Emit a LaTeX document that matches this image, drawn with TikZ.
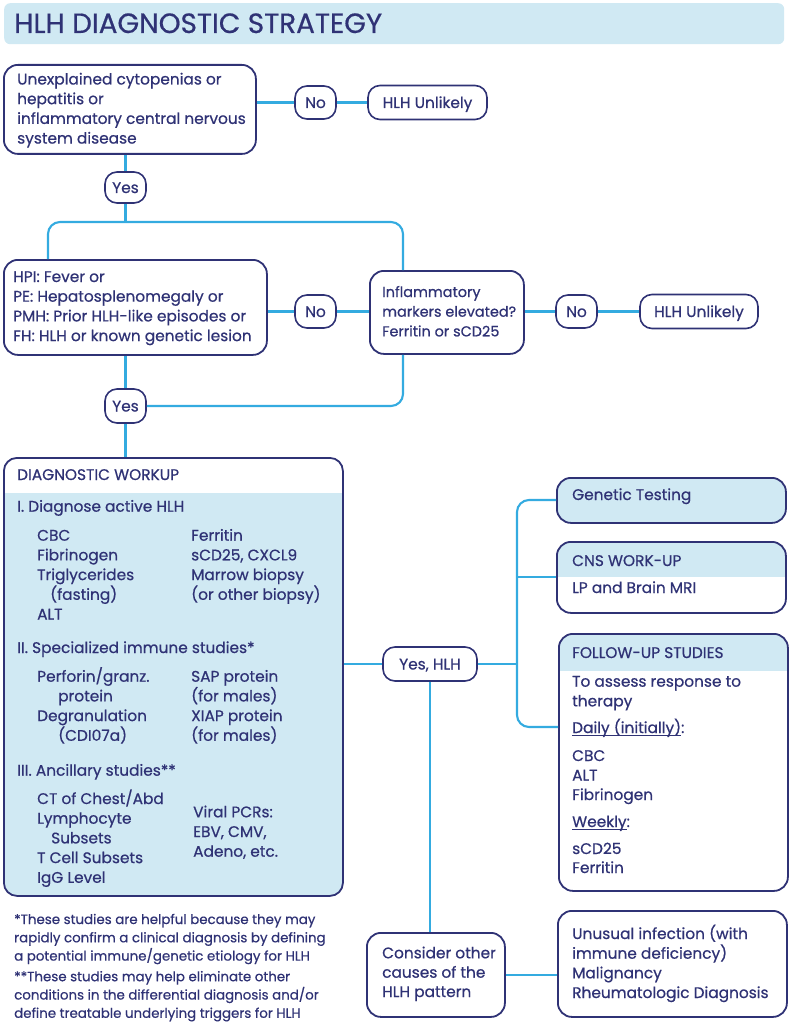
\documentclass[tikz,border=0pt]{standalone}
\usepackage{fontspec}
\setmainfont{Poppins}[FakeBold=0.6]
\definecolor{navy}{HTML}{2F3275}
\definecolor{cyanl}{HTML}{34ABE0}
\definecolor{pale}{HTML}{D0E9F3}
\newlength\mw
\newcommand\myul[1]{\setbox0\hbox{#1}\rlap{\rule[-2.8pt]{\wd0}{1.1pt}}#1}
\newcommand\measure[3]{\settowidth\mw{\fontsize{10pt}{12pt}\selectfont #2}\pgfmathsetmacro#1{#3/\mw}\global\let#1#1}
\begin{document}
\measure{\fsz}{\mbox{Unexplained cytopenias or}\mbox{FH: HLH or known genetic lesion}\mbox{markers elevated?}\mbox{Rheumatologic Diagnosis}\mbox{To assess response to}\mbox{Genetic Testing}}{10700}
\measure{\tsz}{HLH DIAGNOSTIC STRATEGY}{3680}
\measure{\fnsz}{\mbox{rapidly confirm a clinical diagnosis by defining}\mbox{conditions in the differential diagnosis and/or}}{6160}
\measure{\isz}{markers elevated?}{1340}
\begin{tikzpicture}[x=1pt,y=-1pt,
  box/.style={draw=navy, line width=1.8pt, rounded corners=14pt, fill=white, anchor=north west, inner sep=0pt},
  pill/.style={draw=navy, line width=1.6pt, rounded corners=12pt, fill=white, inner sep=0pt, text=navy, font=\fs, text height=11pt, text depth=0pt},
  conn/.style={draw=cyanl, line width=2.1pt, rounded corners=12pt},
  tx/.style={anchor=base west, inner sep=0pt, text=navy, font=\fs},
  itx/.style={anchor=base west, inner sep=0pt, text=navy, font=\ifs},
  fn/.style={anchor=base west, inner sep=0pt, text=navy, font=\ffs},
  hdr/.style={path picture={\fill[#1, sharp corners] (path picture bounding box.north west) rectangle ([yshift=-\hh pt]path picture bounding box.north east);}},
]
\def\fs{\fontsize{\fsz pt}{19.7pt}\selectfont}
\def\ifs{\fontsize{\isz pt}{19.7pt}\selectfont}
\def\ffs{\fontsize{\fnsz pt}{18.5pt}\selectfont}
\def\tfs{\fontsize{\tsz pt}{30pt}\selectfont}
\useasboundingbox (0,0) rectangle (791,1024);

% title
\node[fill=pale, rounded corners=6pt, anchor=north west, minimum width=780pt, minimum height=41pt, inner sep=0pt] (title) at (4,3) {};
\node[anchor=base west, inner sep=0pt, text=navy, font=\tfs] (ttl) at (14,33) {HLH DIAGNOSTIC STRATEGY};

% boxes
\node[box, minimum width=252pt, minimum height=89pt] (b1) at (3,64) {};
\node[pill, minimum width=41pt, minimum height=33pt] (no1) at (315.5,102.5) {No};
\node[pill, minimum width=119pt, minimum height=34pt] (un1) at (427.5,102.5) {HLH Unlikely};
\node[pill, minimum width=41pt, minimum height=31pt] (yes1) at (125.5,187.5) {Yes};
\node[box, minimum width=263pt, minimum height=95pt] (b2) at (3,259) {};
\node[pill, minimum width=41pt, minimum height=33pt] (no2) at (315.5,311.5) {No};
\node[box, minimum width=154pt, minimum height=83pt] (inf) at (369,270) {};
\node[pill, minimum width=41pt, minimum height=33pt] (no3) at (576.5,311.5) {No};
\node[pill, minimum width=118pt, minimum height=34pt] (un2) at (699,311.5) {HLH Unlikely};
\node[pill, minimum width=41pt, minimum height=34pt] (yes2) at (125.5,406) {Yes};
\def\hh{35}
\node[box, fill=pale, hdr=white, rounded corners=13pt, minimum width=339pt, minimum height=438pt] (wk) at (3,457) {};
\node[pill, minimum width=94pt, minimum height=34pt] (yh) at (430,664) {Yes, HLH};
\node[box, fill=pale, minimum width=229pt, minimum height=45pt] (gen) at (556,477) {};
\node[box, hdr=pale, minimum width=229pt, minimum height=71pt] (cns) at (556,541) {};
\def\hh{37}
\node[box, hdr=pale, minimum width=229pt, minimum height=257pt] (fu) at (558,633) {};
\node[box, minimum width=138pt, minimum height=84pt] (con) at (366,932) {};
\node[box, minimum width=229pt, minimum height=106pt] (unu) at (557,910) {};

% connectors
\coordinate (jL) at (48,222);
\coordinate (jR) at (403,222);
\coordinate (jR2) at (403,406);
\coordinate (busT) at (517,500);
\coordinate (busB) at (517,727);
\draw[conn] (no1.west -| b1.east) -- (no1.west);
\draw[conn] (no1.east) -- (un1.west);
\draw[conn] (yes1.north |- b1.south) -- (yes1.north);
\draw[conn] (yes1.south) -- (yes1.south |- jL);
\draw[conn] (jL |- b2.north) -- (jL) -- (jR) -- (jR |- inf.north);
\draw[conn] (no2.west -| b2.east) -- (no2.west);
\draw[conn] (no2.east) -- (no2.east -| inf.west);
\draw[conn] (no3.west -| inf.east) -- (no3.west);
\draw[conn] (no3.east) -- (no3.east -| un2.west);
\draw[conn] (yes2.north |- b2.south) -- (yes2.north);
\draw[conn] (yes2.south) -- (yes2.south |- wk.north);
\draw[conn] (yes2.east) -- (jR2) -- (jR2 |- inf.south);
\draw[conn] (yh.west -| wk.east) -- (yh.west);
\draw[conn] (yh.east) -- (yh.east -| busT);
\draw[conn] (gen.west |- busT) -- (busT) -- (busB) -- (busB -| fu.west);
\draw[conn] (busT |- cns.west) -- (cns.west);
\draw[conn] (yh.south) -- (yh.south |- con.north);
\draw[conn] (con.east) -- (con.east -| unu.west);

% texts box1
\node[tx] (t1a) at (17,84.5) {Unexplained cytopenias or};
\node[tx] (t1b) at (17,104.2) {hepatitis or};
\node[tx] (t1c) at (17,123.9) {inflammatory central nervous};
\node[tx] (t1d) at (17,143.6) {system disease};
% box2
\node[tx] (t2a) at (13,282) {HPI: Fever or};
\node[tx] (t2b) at (13,301.7) {PE: Hepatosplenomegaly or};
\node[tx] (t2c) at (13,321.4) {PMH: Prior HLH-like episodes or};
\node[tx] (t2d) at (13,341.1) {FH: HLH or known genetic lesion};
% inflammatory
\node[itx] (t3a) at (382,297) {Inflammatory};
\node[itx] (t3b) at (382,316.7) {markers elevated?};
\node[itx] (t3c) at (382,336.4) {Ferritin or sCD25};
% workup
\node[tx] (w0) at (17,480) {DIAGNOSTIC WORKUP};
\node[tx] (w1) at (17,511.7) {I. Diagnose active HLH};
\node[tx] (w1a) at (37,540.7) {CBC};
\node[tx] (w1b) at (37,560.4) {Fibrinogen};
\node[tx] (w1c) at (37,580.1) {Triglycerides};
\node[tx] (w1d) at (50,599.8) {(fasting)};
\node[tx] (w1e) at (37,619.5) {ALT};
\node[tx] (w1f) at (191,540.7) {Ferritin};
\node[tx] (w1g) at (191,560.4) {sCD25, CXCL9};
\node[tx] (w1h) at (191,580.1) {Marrow biopsy};
\node[tx] (w1i) at (191,599.8) {(or other biopsy)};
\node[tx] (w2) at (17,653) {II. Specialized immune studies*};
\node[tx] (w2a) at (37,681.7) {Perforin/granz.};
\node[tx] (w2b) at (58,701.4) {protein};
\node[tx] (w2c) at (37,721.1) {Degranulation};
\node[tx] (w2d) at (58,740.8) {(CDI07a)};
\node[tx] (w2e) at (191,681.7) {SAP protein};
\node[tx] (w2f) at (191,701.4) {(for males)};
\node[tx] (w2g) at (191,721.1) {XIAP protein};
\node[tx] (w2h) at (191,740.8) {(for males)};
\node[tx] (w3) at (17,775.7) {III. Ancillary studies**};
\node[tx] (w3a) at (37,804) {CT of Chest/Abd};
\node[tx] (w3b) at (37,823.7) {Lymphocyte};
\node[tx] (w3c) at (51,843.4) {Subsets};
\node[tx] (w3d) at (37,863.1) {T Cell Subsets};
\node[tx] (w3e) at (37,882.8) {IgG Level};
\node[tx] (w3f) at (193,817.3) {Viral PCRs:};
\node[tx] (w3g) at (193,837) {EBV, CMV,};
\node[tx] (w3h) at (193,856.7) {Adeno, etc.};
% footnotes
\node[fn] (f1a) at (14,924) {*These studies are helpful because they may};
\node[fn] (f1b) at (14,942.3) {rapidly confirm a clinical diagnosis by defining};
\node[fn] (f1c) at (14,960.6) {a potential immune/genetic etiology for HLH};
\node[fn] (f2a) at (14,981.2) {**These studies may help eliminate other};
\node[fn] (f2b) at (14,999.5) {conditions in the differential diagnosis and/or};
\node[fn] (f2c) at (14,1017.8) {define treatable underlying triggers for HLH};
% right boxes
\node[tx] (g1) at (572,500) {Genetic Testing};
\node[tx] (c1) at (572,566) {CNS WORK-UP};
\node[tx] (c2) at (572,593) {LP and Brain MRI};
\node[tx] (u0) at (572,658) {FOLLOW-UP STUDIES};
\node[tx] (u1) at (572,686.7) {To assess response to};
\node[tx] (u2) at (572,706.4) {therapy};
\node[tx] (u3) at (572,733) {\myul{Daily (initially)}:};
\node[tx] (u4) at (572,761) {CBC};
\node[tx] (u5) at (572,780.5) {ALT};
\node[tx] (u6) at (572,800) {Fibrinogen};
\node[tx] (u7) at (572,827) {\myul{Weekly}:};
\node[tx] (u8) at (572,854) {sCD25};
\node[tx] (u9) at (572,873) {Ferritin};
\node[tx] (k1) at (382,958.3) {Consider other};
\node[tx] (k2) at (382,977.7) {causes of the};
\node[tx] (k3) at (382,997) {HLH pattern};
\node[tx] (v1) at (572,939) {Unusual infection (with};
\node[tx] (v2) at (572,958.7) {immune deficiency)};
\node[tx] (v3) at (572,978.3) {Malignancy};
\node[tx] (v4) at (572,998) {Rheumatologic Diagnosis};
\end{tikzpicture}
\end{document}
